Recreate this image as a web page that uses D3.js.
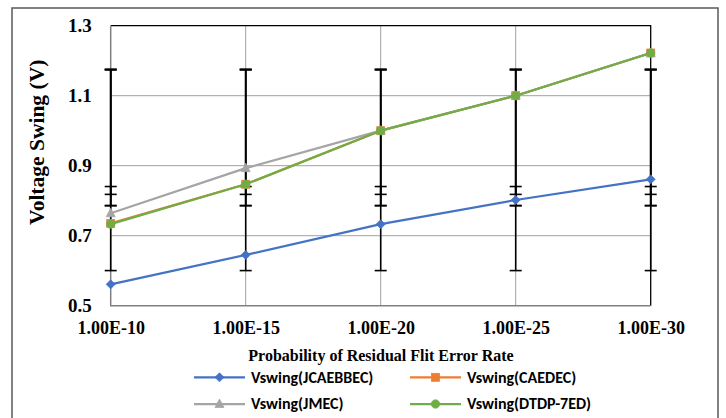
<!DOCTYPE html>
<html>
<head>
<meta charset="utf-8">
<script src="https://cdn.jsdelivr.net/npm/d3@7"></script>
<style>
  body { margin: 0; background: #fff; }
  .serif { font-family: "Times New Roman", "Liberation Serif", serif; font-weight: bold; fill: #000; }
  .legend-label { font-family: Carlito, Calibri, Lato, sans-serif; font-weight: bold; font-size: 16px; fill: #000; }
</style>
</head>
<body>
<svg id="chart" width="726" height="418"></svg>
<script>
// categories (x axis)
const categories = ['1.00E-10', '1.00E-15', '1.00E-20', '1.00E-25', '1.00E-30'];

// series values (V)
const vswingJCAEBBEC = [0.561, 0.645, 0.733, 0.802, 0.861];
const vswingCAEDEC   = [0.735, 0.847, 1.0, 1.1, 1.222];
const vswingJMEC     = [0.764, 0.893, 1.0, 1.1, 1.222];
const vswingDTDP7ED  = [0.733, 0.847, 1.0, 1.1, 1.222];

const yTicks = [0.5, 0.7, 0.9, 1.1, 1.3];

const series = [
  { name: 'Vswing(JCAEBBEC)', values: vswingJCAEBBEC, color: '#4472C4', marker: 'diamond' },
  { name: 'Vswing(CAEDEC)',   values: vswingCAEDEC,   color: '#ED7D31', marker: 'square' },
  { name: 'Vswing(JMEC)',     values: vswingJMEC,     color: '#A5A5A5', marker: 'triangle' },
  { name: 'Vswing(DTDP-7ED)', values: vswingDTDP7ED,  color: '#70AD47', marker: 'circle' },
];

const plot = { left: 110.7, right: 650.7, top: 25.7, bottom: 305.7 };

const svg = d3.select('#chart');

// chart frame
svg.append('rect')
  .attr('x', 12).attr('y', 8)
  .attr('width', 706).attr('height', 430)
  .style('fill', 'none')
  .style('stroke', '#595959')
  .style('stroke-width', 1.5);

const x = d3.scalePoint().domain(categories).range([plot.left, plot.right]).padding(0);
const y = d3.scaleLinear().domain([0.5, 1.3]).range([plot.bottom, plot.top]);

// gridlines
svg.append('g').selectAll('line.hgrid').data(yTicks.slice(1, -1)).join('line')
  .attr('x1', plot.left).attr('x2', plot.right)
  .attr('y1', d => y(d)).attr('y2', d => y(d))
  .style('stroke', '#A0A0A0').style('stroke-width', 1);
svg.append('g').selectAll('line.vgrid').data(categories.slice(1, -1)).join('line')
  .attr('x1', d => x(d)).attr('x2', d => x(d))
  .attr('y1', plot.top).attr('y2', plot.bottom)
  .style('stroke', '#A0A0A0').style('stroke-width', 1);

// plot area border: top/right black, axes gray
svg.append('path')
  .attr('d', `M${plot.left},${plot.top}H${plot.right}V${plot.bottom}`)
  .style('fill', 'none').style('stroke', '#000').style('stroke-width', 1.3);
svg.append('path')
  .attr('d', `M${plot.left},${plot.top}V${plot.bottom}H${plot.right}`)
  .style('fill', 'none').style('stroke', '#808080').style('stroke-width', 1.5);

// axes
const yAxis = svg.append('g')
  .attr('transform', `translate(${plot.left},0)`)
  .call(d3.axisLeft(y).tickValues(yTicks).tickFormat(d3.format('.1f')).tickSize(0).tickPadding(19));
yAxis.select('.domain').remove();
yAxis.selectAll('text').attr('class', 'serif').style('font-size', '19px');

const xAxis = svg.append('g')
  .attr('transform', `translate(0,${plot.bottom})`)
  .call(d3.axisBottom(x).tickSize(0).tickPadding(15.5));
xAxis.select('.domain').remove();
xAxis.selectAll('text').attr('class', 'serif').style('font-size', '18px');

// axis titles
svg.append('text')
  .attr('class', 'serif')
  .attr('transform', 'translate(44,142.3) rotate(-90)')
  .attr('text-anchor', 'middle')
  .style('font-size', '21.5px')
  .text('Voltage Swing (V)');

svg.append('text')
  .attr('class', 'serif')
  .attr('x', 381).attr('y', 360.7)
  .attr('text-anchor', 'middle')
  .style('font-size', '16px')
  .text('Probability of Residual Flit Error Rate');

// error bars: 1 standard deviation around the series mean (Excel style)
const capHalf = 6;
const errG = svg.append('g');
series.forEach(s => {
  const mean = d3.mean(s.values);
  const sd = d3.deviation(s.values);
  categories.forEach(c => {
    const cx = x(c);
    const g = errG.append('g').style('stroke', '#000').style('stroke-width', 1.6);
    g.append('line').attr('x1', cx).attr('x2', cx).attr('y1', y(mean - sd)).attr('y2', y(mean + sd));
    [mean - sd, mean + sd].forEach(v => {
      g.append('line').attr('x1', cx - capHalf).attr('x2', cx + capHalf).attr('y1', y(v)).attr('y2', y(v));
    });
  });
});

function drawMarker(sel, type, color, cx, cy) {
  if (type === 'diamond') {
    sel.append('path').attr('d', `M${cx},${cy - 4.5}L${cx + 4.5},${cy}L${cx},${cy + 4.5}L${cx - 4.5},${cy}Z`)
      .style('fill', color).style('stroke', color).style('stroke-width', 0.75);
  } else if (type === 'square') {
    sel.append('rect').attr('x', cx - 4).attr('y', cy - 4).attr('width', 8).attr('height', 8)
      .style('fill', color).style('stroke', color).style('stroke-width', 0.75);
  } else if (type === 'triangle') {
    sel.append('path').attr('d', `M${cx},${cy - 5}L${cx + 4.5},${cy + 3.5}L${cx - 4.5},${cy + 3.5}Z`)
      .style('fill', color).style('stroke', color).style('stroke-width', 0.75);
  } else {
    sel.append('circle').attr('cx', cx).attr('cy', cy).attr('r', 4.2)
      .style('fill', color).style('stroke', color).style('stroke-width', 0.75);
  }
}

const line = d3.line().x((d, i) => x(categories[i])).y(d => y(d));

series.forEach(s => {
  const g = svg.append('g').attr('class', 'series');
  g.append('path')
    .attr('d', line(s.values))
    .style('fill', 'none')
    .style('stroke', s.color)
    .style('stroke-width', 2.25)
    .style('stroke-linejoin', 'round');
  s.values.forEach((v, i) => drawMarker(g, s.marker, s.color, x(categories[i]), y(v)));
});

// legend
const legendPos = [
  { x: 194, y: 377.3 },
  { x: 410, y: 377.3 },
  { x: 194, y: 404 },
  { x: 410, y: 404 },
];
const legend = svg.append('g');
series.forEach((s, i) => {
  const p = legendPos[i];
  const g = legend.append('g').attr('transform', `translate(${p.x},${p.y})`);
  g.append('line').attr('x1', 0).attr('x2', 51).attr('y1', 0).attr('y2', 0)
    .style('stroke', s.color).style('stroke-width', 2.25);
  drawMarker(g, s.marker, s.color, 25.5, 0);
  g.append('text')
    .attr('class', 'legend-label')
    .attr('x', 57).attr('dy', '0.33em')
    .text(s.name);
});
</script>
</body>
</html>
